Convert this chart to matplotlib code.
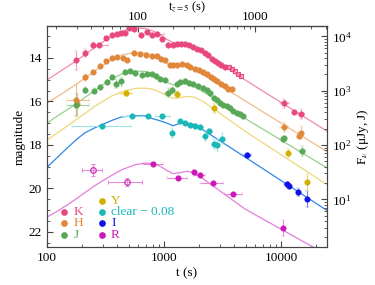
import matplotlib
matplotlib.use('Agg')
import matplotlib.pyplot as plt
import numpy as np
from matplotlib.ticker import (LogLocator, FuncFormatter, MultipleLocator, NullFormatter,
                               FixedLocator)

plt.rcParams['font.family'] = ['Liberation Serif', 'DejaVu Serif']
plt.rcParams['mathtext.fontset'] = 'stix'
plt.rcParams['font.size'] = 9.5

# model light curves (t in s, magnitudes)
t_model = [100, 121.8, 148.3, 177.0, 211.3, 257.2, 295.2, 359.4, 437.5, 565, 688.1, 805.4,
           924.6, 1061, 1194, 1371, 1573, 1841, 2240, 4923, 24740]
mod_K = [15.01, 14.71, 14.41, 14.14, 13.84, 13.52, 13.29, 12.99, 12.76, 12.62, 12.65, 12.76,
         12.94, 13.15, 13.29, 13.29, 13.33, 13.54, 13.82, 15.01, 17.37]
mod_H = [16.08, 15.79, 15.49, 15.22, 14.92, 14.60, 14.37, 14.07, 13.86, 13.75, 13.77, 13.89,
         14.05, 14.25, 14.37, 14.37, 14.41, 14.57, 14.83, 15.97, 18.31]
mod_J = [17.00, 16.68, 16.39, 16.11, 15.81, 15.49, 15.26, 14.96, 14.73, 14.60, 14.62, 14.73,
         14.92, 15.12, 15.24, 15.19, 15.19, 15.33, 15.61, 16.78, 19.06]
mod_Y = [17.78, 17.46, 17.14, 16.84, 16.55, 16.22, 16.02, 15.74, 15.56, 15.40, 15.39, 15.44,
         15.58, 15.74, 15.86, 15.83, 15.77, 15.81, 16.06, 17.37, 19.83]
mod_I = [19.03, 18.59, 18.15, 17.77, 17.44, 17.21, 17.07, 16.87, 16.71, 16.66, 16.66, 16.80,
         16.89, 17.00, 17.12, 17.00, 17.00, 17.07, 17.37, 18.56, 21.02]
mod_R = [21.32, 21.06, 20.77, 20.49, 20.19, 19.87, 19.67, 19.39, 19.14, 18.91, 18.84, 18.85,
         18.98, 19.18, 19.32, 19.28, 19.21, 19.30, 19.62, 20.95, 23.06]

# K band
t_K = [177, 211, 246, 319, 357, 394, 432, 464, 502, 557, 632, 711, 790, 967, 1082, 1196, 1284,
       1389, 1512, 1645, 1780, 1926, 2060, 2240, 2390, 2560, 2730, 2910, 3090, 3320, 12840]
m_K = [14.11, 13.77, 13.42, 13.08, 12.93, 12.89, 12.85, 12.84, 12.62, 12.66, 12.93, 12.82, 12.94,
       13.11, 13.40, 13.39, 13.37, 13.34, 13.34, 13.42, 13.50, 13.57, 13.65, 13.77, 13.88, 14.03,
       14.15, 14.22, 14.32, 14.42, 16.49]
dm_K = [0.45, 0.2, 0.15, 0.1] + [0.08] * 27
tx_K = [280, 871, 10670, 14820]
mx_K = [13.39, 12.88, 16.08, 16.57]
dmx_K = [0.08, 0.08, 0.2, 0.23]
tlo_K = [245, 760, 9770, 13900]
thi_K = [335, 1000, 11650, 15800]
th_K = [3594, 3813, 4045, 4291, 4506]   # open squares
mh_K = [14.41, 14.50, 14.62, 14.73, 14.83]

# H band
t_H = [182, 212, 249, 284, 319, 359, 397, 446, 483, 554, 624, 702, 790, 871, 943, 1020, 1126,
       1205, 1299, 1417, 1563, 1668, 1841, 2003, 2167, 2317, 2507, 2676, 2855, 3052, 3322, 3545,
       3813, 14250]
m_H = [16.11, 14.89, 14.63, 14.37, 14.14, 14.00, 13.95, 14.00, 14.09, 13.77, 13.82, 13.86, 13.89,
       13.91, 14.05, 14.11, 14.33, 14.33, 14.31, 14.26, 14.33, 14.41, 14.49, 14.56, 14.64, 14.72,
       14.87, 14.95, 15.07, 15.18, 15.28, 15.41, 15.42, 17.58]
dm_H = [0.5, 0.15] + [0.08] * 31 + [0.1]
tx_H = [177, 10670, 14820]
mx_H = [15.93, 17.18, 17.43]
dmx_H = [0.75, 0.23, 0.32]
tlo_H = [147, 9870, 14200]
thi_H = [229, 11550, 15450]

# J band
t_J = [213, 250, 284, 323, 361, 389, 429, 464, 512, 565, 645, 711, 785, 855, 925, 1020, 1164, 1284,
       1371, 1512, 1645, 1780, 1965, 2167, 2331, 2473, 2692, 2821, 3010, 3212, 3435, 3666, 3912,
       4183, 4463, 4762, 10670]
m_J = [15.47, 15.51, 15.32, 15.10, 14.86, 15.19, 15.07, 14.64, 14.61, 14.67, 14.78, 14.72, 14.72,
       14.83, 14.95, 15.02, 15.48, 15.22, 15.10, 15.07, 15.13, 15.22, 15.31, 15.38, 15.47, 15.62,
       15.85, 15.93, 16.08, 16.16, 16.23, 16.31, 16.42, 16.54, 16.57, 16.69, 17.68]
dm_J = [0.15, 0.12, 0.08, 0.08, 0.08, 0.2, 0.2, 0.08, 0.08, 0.08, 0.08, 0.08, 0.08, 0.08, 0.08,
        0.08, 0.15] + [0.08] * 20
tx_J = [177, 1089, 10400, 15030]
mx_J = [16.16, 15.59, 17.73, 18.30]
dmx_J = [0.5, 0.2, 0.1, 0.23]
tlo_J = [147, 1006, 9800, 14000]
thi_J = [229, 1178, 11000, 16100]

# Y band
t_Y = [1284, 2676, 11540, 16580]
m_Y = [15.68, 16.31, 18.37, 19.72]
dm_Y = [0.14, 0.23, 0.18, 0.37]
tx_Y = [473]
mx_Y = [15.62]
dmx_Y = [0.15]
tlo_Y = [421]
thi_Y = [530]

# clear - 0.08
t_c = [734, 1164, 1371, 1512, 1668, 1841, 2030, 2240, 2692, 2863, 3156]
m_c = [16.69, 17.45, 16.92, 17.00, 17.07, 17.12, 17.18, 17.61, 17.96, 17.99, 17.72]
dm_c = [0.08, 0.23, 0.08, 0.08, 0.1, 0.1, 0.1, 0.2, 0.25, 0.3, 0.25]
tx_c = [293, 536, 956, 2439]
mx_c = [17.11, 16.69, 16.66, 17.37]
dmx_c = [0.08, 0.08, 0.08, 0.1]
tlo_c = [165, 435, 838, 2300]
thi_c = [525, 665, 1126, 2580]

# I band
t_I = [11700, 14060, 16580]
m_I = [19.89, 20.18, 20.47]
dm_I = [0.1, 0.18, 0.37]
tx_I = [5090, 11140]
mx_I = [18.45, 19.78]
dmx_I = [0.08, 0.08]
tlo_I = [4705, 10500]
thi_I = [5505, 11800]

# R band
t_R = [1805, 10400]
m_R = [19.23, 21.81]
dm_R = [0.08, 0.37]
tx_R = [810, 1325, 2011, 2638, 3912]
mx_R = [18.89, 19.52, 19.37, 19.77, 20.28]
dmx_R = [0.1, 0.1, 0.08, 0.08, 0.08]
tlo_R = [665, 1055, 1800, 2032, 3322]
thi_R = [986, 1563, 2250, 3194, 4615]
to_R = [246, 480]     # open circles
mo_R = [19.17, 19.70]
dmo_R = [0.28, 0.18]
tlo_o_R = [200, 334]
thi_o_R = [297, 645]

col = {'K': '#e8487c', 'H': '#e0873a', 'J': '#58a858', 'Y': '#d2b000',
       'c': '#19b8b8', 'I': '#1010e8', 'R': '#cc18b4'}
ecol = {'K': '#f29ab6', 'H': '#f0bf8c', 'J': '#9fd09a', 'Y': '#e6d070',
        'c': '#9ae0e0', 'I': '#7a7af2', 'R': '#e58ada'}
lcol = {'K': '#f08cab', 'H': '#f0bb88', 'J': '#98cf90', 'Y': '#eed77a',
        'I': '#2f86e6', 'R': '#e27ddc'}

fig = plt.figure(figsize=(3.75, 2.85), dpi=100)
ax = fig.add_axes([0.1253, 0.1316, 0.7467, 0.7772])

for b, mm in [('K', mod_K), ('H', mod_H), ('J', mod_J), ('Y', mod_Y), ('I', mod_I), ('R', mod_R)]:
    ax.plot(t_model, mm, color=lcol[b], lw=0.9, zorder=1)


def pts(t, m, dm, b, tlo=None, thi=None, hollow=False, marker='o'):
    t = np.asarray(t, float)
    xe = None
    if tlo is not None:
        xe = [t - np.asarray(tlo), np.asarray(thi) - t]
    ax.errorbar(t, m, yerr=dm, xerr=xe, fmt=marker, ms=4.0 if marker == 'o' else 3.5,
                mfc='none' if hollow else col[b], mec=col[b], mew=0.8 if hollow else 0.3,
                ecolor=ecol[b], elinewidth=0.8, capsize=1.7, capthick=0.8, zorder=3)


pts(t_K, m_K, dm_K, 'K')
pts(tx_K, mx_K, dmx_K, 'K', tlo_K, thi_K)
pts(th_K, mh_K, [0.06] * len(th_K), 'K', hollow=True, marker='s')
pts(t_H, m_H, dm_H, 'H')
pts(tx_H, mx_H, dmx_H, 'H', tlo_H, thi_H)
pts(t_J, m_J, dm_J, 'J')
pts(tx_J, mx_J, dmx_J, 'J', tlo_J, thi_J)
pts(t_Y, m_Y, dm_Y, 'Y')
pts(tx_Y, mx_Y, dmx_Y, 'Y', tlo_Y, thi_Y)
pts(t_c, m_c, dm_c, 'c')
pts(tx_c, mx_c, dmx_c, 'c', tlo_c, thi_c)
pts(t_I, m_I, dm_I, 'I')
pts(tx_I, mx_I, dmx_I, 'I', tlo_I, thi_I)
pts(t_R, m_R, dm_R, 'R')
pts(tx_R, mx_R, dmx_R, 'R', tlo_R, thi_R)
pts(to_R, mo_R, dmo_R, 'R', tlo_o_R, thi_o_R, hollow=True)

m_lo, m_hi = 12.53, 22.72
ax.set_xscale('log')
ax.set_xlim(100, 24700)
ax.set_ylim(m_hi, m_lo)
ax.yaxis.set_major_locator(MultipleLocator(2))
ax.yaxis.set_minor_locator(MultipleLocator(0.5))
ax.xaxis.set_major_locator(FixedLocator([100, 1000, 10000]))
ax.xaxis.set_major_formatter(FuncFormatter(lambda v, p: '%d' % v))
ax.xaxis.set_minor_formatter(NullFormatter())
ax.tick_params(which='both', direction='in', top=False, right=False, colors='#444444',
               labelcolor='black', labelsize=9.5)
ax.tick_params(which='major', length=4)
ax.tick_params(which='minor', length=2)
for s in ax.spines.values():
    s.set_color('#444444')
    s.set_linewidth(0.8)
ax.set_xlabel('t (s)', labelpad=2)
ax.set_ylabel('magnitude', labelpad=2)

# top axis: rest-frame time for z = 5
sec = ax.secondary_xaxis('top', functions=(lambda t: t / 6.0, lambda t: t * 6.0))
sec.xaxis.set_major_locator(FixedLocator([100, 1000]))
sec.xaxis.set_minor_locator(LogLocator(base=10, subs=np.arange(2, 10)))
sec.xaxis.set_major_formatter(FuncFormatter(lambda v, p: '%d' % v))
sec.xaxis.set_minor_formatter(NullFormatter())
sec.tick_params(which='both', direction='in', colors='#444444', labelcolor='black',
                labelsize=9.5, pad=2)
sec.tick_params(which='major', length=4)
sec.tick_params(which='minor', length=2)
sec.set_xlabel('t$_{z=5}$ (s)', labelpad=0.5, fontsize=9)

# right axis: flux density in J band (Vega zero point)
zp = 1594e6
axr = ax.twinx()
axr.set_yscale('log')
axr.set_ylim(zp * 10 ** (-0.4 * m_hi), zp * 10 ** (-0.4 * m_lo))
axr.yaxis.set_major_locator(LogLocator(base=10))
axr.yaxis.set_minor_locator(LogLocator(base=10, subs=np.arange(2, 10)))
axr.tick_params(which='both', direction='in', colors='#444444', labelcolor='black', labelsize=9.5)
axr.tick_params(which='major', length=4)
axr.tick_params(which='minor', length=2)
for s in axr.spines.values():
    s.set_color('#444444')
    s.set_linewidth(0.8)
axr.set_ylabel('F$_\\nu$ (μJy, J)', labelpad=2)

# legend
leg1 = [('K', 'K', 0.1603), ('H', 'H', 0.1084), ('J', 'J', 0.0564)]
leg2 = [('Y', 'Y', 0.2099), ('c', 'clear − 0.08', 0.1603), ('I', 'I', 0.1084), ('R', 'R', 0.0564)]
for xm, xt, items in [(0.0607, 0.0964, leg1), (0.1964, 0.2286, leg2)]:
    for b, lab, yy in items:
        ax.plot([xm], [yy], 'o', ms=3.8, color=col[b], mec=col[b], transform=ax.transAxes)
        ax.text(xt, yy, lab, color=col[b], transform=ax.transAxes, va='center', ha='left',
                fontsize=9.5)

fig.savefig('out.png', dpi=100)
